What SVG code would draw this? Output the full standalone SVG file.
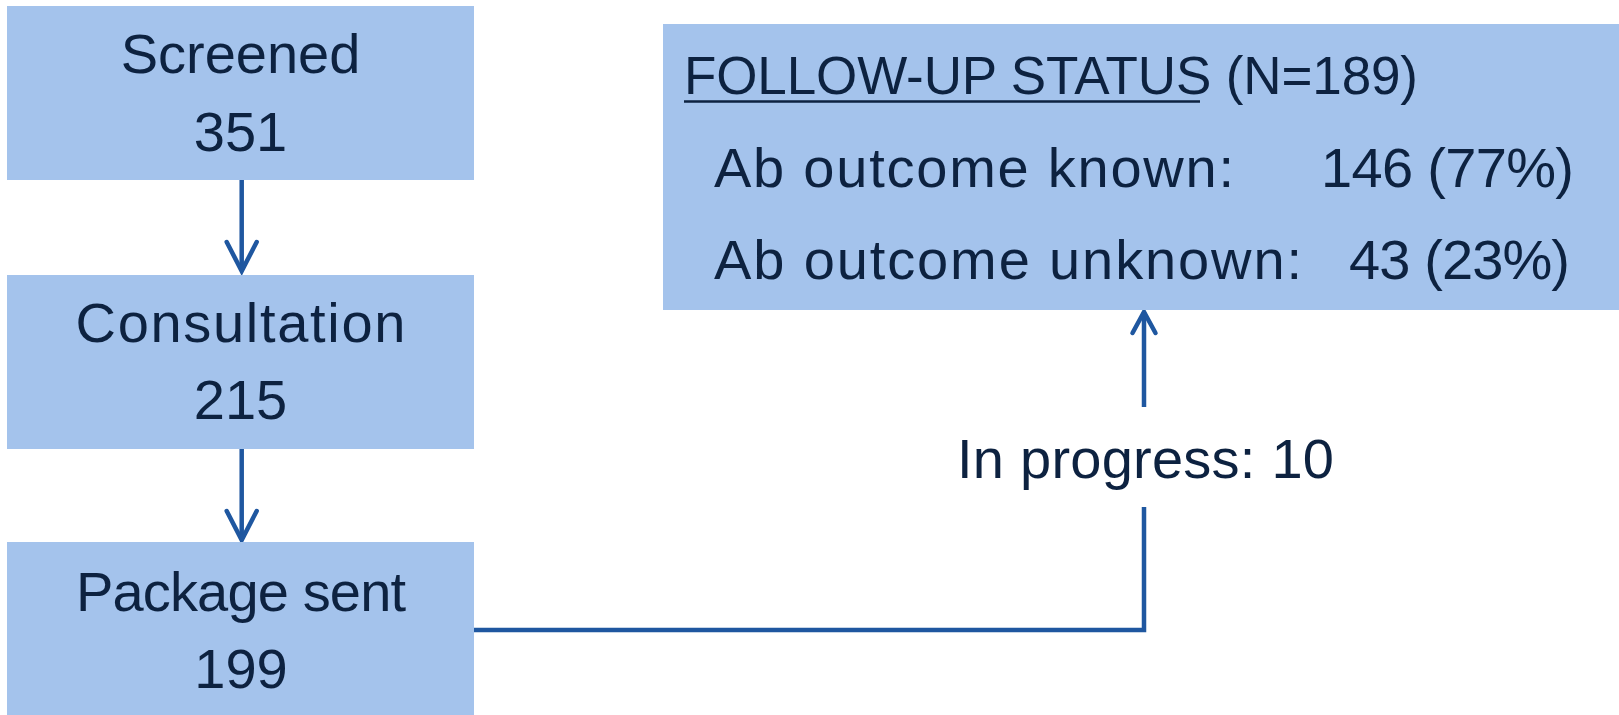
<svg xmlns="http://www.w3.org/2000/svg" width="1619" height="715" viewBox="0 0 1619 715">
<style>
.box{fill:#a4c3ec;}
.t{font-family:"Liberation Sans",Arial,sans-serif;fill:#0d2240;font-size:56px;}
.c{text-anchor:middle;}
.con{fill:none;stroke:#1f57a0;stroke-width:4.5;}
</style>
<defs>
<marker id="ahD" markerUnits="userSpaceOnUse" viewBox="-34 -20 38 40" refX="0" refY="0" markerWidth="38" markerHeight="40" orient="auto" overflow="visible">
<path d="M-29,-15 L0,0 L-29,15" fill="none" stroke="#1f57a0" stroke-width="4.5" stroke-linecap="round"/>
</marker>
<marker id="ahU" markerUnits="userSpaceOnUse" viewBox="-26 -16 30 32" refX="0" refY="0" markerWidth="30" markerHeight="32" orient="auto" overflow="visible">
<path d="M-21,-11.5 L0,0 L-21,11.5" fill="none" stroke="#1f57a0" stroke-width="4.5" stroke-linecap="round"/>
</marker>
</defs>
<g id="connectors">
<path class="con" d="M241.7,180 V271" marker-end="url(#ahD)"/>
<path class="con" d="M241.7,449 V540" marker-end="url(#ahD)"/>
<path class="con" d="M474,630 H1144 V507"/>
<path class="con" d="M1144,407 V312" marker-end="url(#ahU)"/>
<text class="t" x="957" y="478" textLength="377">In progress: 10</text>
</g>
<g id="screened">
<rect class="box" x="7" y="6" width="467" height="174"/>
<text class="t c" x="240.5" y="73">Screened</text>
<text class="t c" x="240.5" y="150.7">351</text>
</g>
<g id="consultation">
<rect class="box" x="7" y="275" width="467" height="174"/>
<text class="t c" x="240.5" y="342.3" textLength="330">Consultation</text>
<text class="t c" x="240.5" y="419.3">215</text>
</g>
<g id="package">
<rect class="box" x="7" y="542" width="467" height="173"/>
<text class="t c" x="241" y="611" textLength="330">Package sent</text>
<text class="t c" x="241" y="688.3">199</text>
</g>
<g id="followup">
<rect class="box" x="663" y="24" width="956" height="286"/>
<text class="t" x="684" y="94.3" style="font-size:53px" textLength="734">FOLLOW-UP STATUS (N=189)</text>
<line x1="684" y1="101.5" x2="1200" y2="101.5" stroke="#0d2240" stroke-width="2.5"/>
<text class="t" x="714" y="186.7" textLength="520">Ab outcome known:</text>
<text class="t" x="1321" y="186.7" textLength="253">146 (77%)</text>
<text class="t" x="714" y="279.3" textLength="588">Ab outcome unknown:</text>
<text class="t" x="1349" y="279.3" textLength="221">43 (23%)</text>
</g>
</svg>
